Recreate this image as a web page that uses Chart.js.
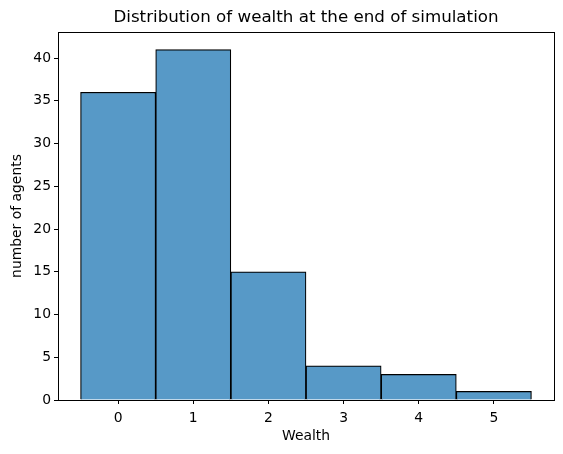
<!DOCTYPE html>
<html>
<head>
<meta charset="utf-8">
<script src="https://cdn.jsdelivr.net/npm/chart.js@4.4.1/dist/chart.umd.min.js"></script>
<style>
  body { margin: 0; background: #fff; }
  #wrap { width: 563px; height: 454px; }
</style>
</head>
<body>
<div id="wrap"><canvas id="histChart" width="563" height="454"></canvas></div>
<script>
var wealth = [0, 1, 2, 3, 4, 5];
var agents = [36, 41, 15, 4, 3, 1];
var xTicks = [0, 1, 2, 3, 4, 5];
var yTicks = [0, 5, 10, 15, 20, 25, 30, 35, 40];

var font = 'DejaVu Sans';

// top + right spines like matplotlib
var frame = {
    id: 'frame',
    afterDraw: function (chart) {
        var a = chart.chartArea, c = chart.ctx;
        c.save();
        c.strokeStyle = '#000';
        c.lineWidth = 1;
        c.strokeRect(Math.round(a.left) + 0.5, Math.round(a.top) + 0.5,
            Math.round(a.right - a.left), Math.round(a.bottom - a.top));
        c.restore();
    }
};

new Chart(document.getElementById('histChart'), {
    type: 'bar',
    data: {
        datasets: [{
            data: wealth.map(function (w, i) { return { x: w, y: agents[i] }; }),
            backgroundColor: '#5799c7',
            borderColor: '#000',
            borderWidth: 1.2,
            barPercentage: 1,
            categoryPercentage: 1
        }]
    },
    options: {
        responsive: false,
        animation: false,
        layout: { padding: { left: 0, right: 9, top: 0, bottom: 0 } },
        plugins: {
            legend: { display: false },
            tooltip: { enabled: false },
            title: {
                display: true,
                text: 'Distribution of wealth at the end of simulation',
                fullSize: false,
                color: '#000',
                font: { family: font, size: 16.7, weight: 'normal' },
                padding: { top: 8, bottom: 4 }
            }
        },
        scales: {
            x: {
                type: 'linear',
                min: -0.8,
                max: 5.8,
                offset: false,
                afterBuildTicks: function (s) { s.ticks = xTicks.map(function (v) { return { value: v }; }); },
                afterFit: function (s) { s.height = 54; },
                grid: { offset: false, drawOnChartArea: false, drawTicks: true, tickLength: 4, color: '#000' },
                border: { display: true, color: '#000' },
                ticks: { color: '#000', padding: 6, font: { family: font, size: 13.9 } },
                title: {
                    display: true, text: 'Wealth', color: '#000',
                    font: { family: font, size: 13.9 },
                    padding: { top: 2, bottom: 9 }
                }
            },
            y: {
                min: 0,
                max: 43.05,
                afterBuildTicks: function (s) { s.ticks = yTicks.map(function (v) { return { value: v }; }); },
                afterFit: function (s) { s.width = 58; },
                grid: { drawOnChartArea: false, drawTicks: true, tickLength: 4, color: '#000' },
                border: { display: true, color: '#000' },
                ticks: { color: '#000', padding: 3, font: { family: font, size: 13.9 } },
                title: {
                    display: true, text: 'number of agents', color: '#000',
                    font: { family: font, size: 13.9 },
                    padding: { top: 9, bottom: 2 }
                }
            }
        }
    },
    plugins: [frame]
});
</script>
</body>
</html>
